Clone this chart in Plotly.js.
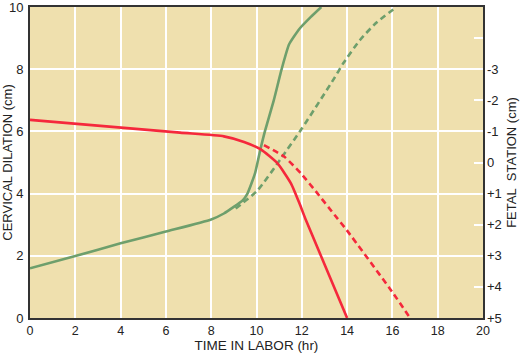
<!DOCTYPE html>
<html>
<head>
<meta charset="utf-8">
<script src="https://cdn.plot.ly/plotly-3.0.1.min.js"></script>
<style>html,body{margin:0;padding:0;background:#fff;}#chart{width:522px;height:353px;}</style>
</head>
<body>
<div id="chart"></div>
<script>
// Cervical dilation (cm) vs time (hr)
const dilationTime = [0, 2, 4, 6, 8, 8.56, 9.4, 9.6, 9.93, 10.16, 10.37, 10.76, 11.11, 11.44, 11.9, 12.4, 12.86];
const dilationValues = [1.6, 1.99, 2.4, 2.78, 3.17, 3.36, 3.79, 4.0, 4.64, 5.38, 6.0, 6.99, 8.0, 8.8, 9.3, 9.68, 10.0];
// Prolonged dilation (dashed)
const dilationSlowTime = [9.08, 10.04, 11.08, 12.0, 13.45, 13.83, 14.57, 15.3, 16.19];
const dilationSlowValues = [3.52, 4.1, 5.13, 6.09, 7.73, 8.19, 8.94, 9.5, 10.0];
// Fetal station (cm) vs time (hr)
const stationTime = [0, 6.62, 8.56, 9.45, 10.19, 10.93, 11.52, 11.9, 12.18, 14.0];
const stationValues = [-1.37, -0.96, -0.84, -0.66, -0.42, 0.03, 0.67, 1.32, 1.85, 5.0];
// Arrest of descent (dashed)
const stationSlowTime = [10.33, 11.22, 11.96, 12.7, 13.45, 13.98, 16.04, 16.78];
const stationSlowValues = [-0.56, -0.19, 0.35, 1.0, 1.69, 2.17, 4.21, 5.0];
// Tick labels
const timeTicks = [0, 2, 4, 6, 8, 10, 12, 14, 16, 18, 20];
const dilationTicks = [0, 2, 4, 6, 8, 10];
const stationTickVals = [-4, -3, -2, -1, 0, 1, 2, 3, 4, 5];
const stationTickText = ["", "-3", "-2", "-1", "0", "+1", "+2", "+3", "+4", "+5"];

const GREEN = "#6e9f6c";
const RED = "#f5283c";
const FONT = "Liberation Sans, Arial, Helvetica, sans-serif";

const traces = [
  {x: dilationTime, y: dilationValues, mode: "lines", line: {color: GREEN, width: 2.6, shape: "spline", smoothing: 0.5}, yaxis: "y", hoverinfo: "skip"},
  {x: dilationSlowTime, y: dilationSlowValues, mode: "lines", line: {color: GREEN, width: 2.6, dash: "6px,4px", shape: "spline", smoothing: 0.6}, yaxis: "y", hoverinfo: "skip"},
  {x: stationTime, y: stationValues, mode: "lines", line: {color: RED, width: 2.6, shape: "spline", smoothing: 0.5}, yaxis: "y2", hoverinfo: "skip"},
  {x: stationSlowTime, y: stationSlowValues, mode: "lines", line: {color: RED, width: 2.6, dash: "6px,4px", shape: "spline", smoothing: 0.5}, yaxis: "y2", hoverinfo: "skip"}
];

const layout = {
  width: 522, height: 353,
  margin: {l: 30, r: 39, t: 7, b: 35, pad: 0},
  paper_bgcolor: "#ffffff",
  plot_bgcolor: "#efe0ae",
  showlegend: false,
  font: {family: FONT, size: 13, color: "#222"},
  xaxis: {
    range: [0, 20], tickvals: timeTicks, ticktext: timeTicks.map(String),
    showgrid: true, gridcolor: "#ffffff", gridwidth: 2, zeroline: false,
    showline: true, linecolor: "#333", linewidth: 2, mirror: true,
    ticks: "", ticklabelstandoff: 0, ticklabeloverflow: "allow",
    tickfont: {size: 12.5, family: FONT, color: "#222"},
    title: {text: "TIME IN LABOR (hr)", font: {size: 13.5, family: FONT, color: "#222"}, standoff: 3}
  },
  yaxis: {
    range: [0, 10], tickvals: dilationTicks, ticktext: dilationTicks.map(String),
    showgrid: true, gridcolor: "#ffffff", gridwidth: 2, zeroline: false,
    showline: true, linecolor: "#333", linewidth: 2, mirror: true,
    ticks: "", ticklabelstandoff: 2, ticklabeloverflow: "allow",
    tickfont: {size: 13, family: FONT, color: "#222"},
    title: {text: "CERVICAL DILATION (cm)", font: {size: 13, family: FONT, color: "#222"}, standoff: 2}
  },
  yaxis2: {
    overlaying: "y", side: "right", range: [5, -5],
    tickvals: stationTickVals, ticktext: stationTickText,
    showgrid: false, zeroline: false, showline: false,
    ticks: "inside", ticklen: 9, tickwidth: 2, tickcolor: "#ffffff",
    ticklabelstandoff: 3, ticklabeloverflow: "allow",
    tickfont: {size: 13, family: FONT, color: "#222"},
    title: {text: "FETAL&nbsp; STATION (cm)", font: {size: 13, family: FONT, color: "#222"}, standoff: 6}
  }
};

Plotly.newPlot("chart", traces, layout, {staticPlot: true, displayModeBar: false});
</script>
</body>
</html>
